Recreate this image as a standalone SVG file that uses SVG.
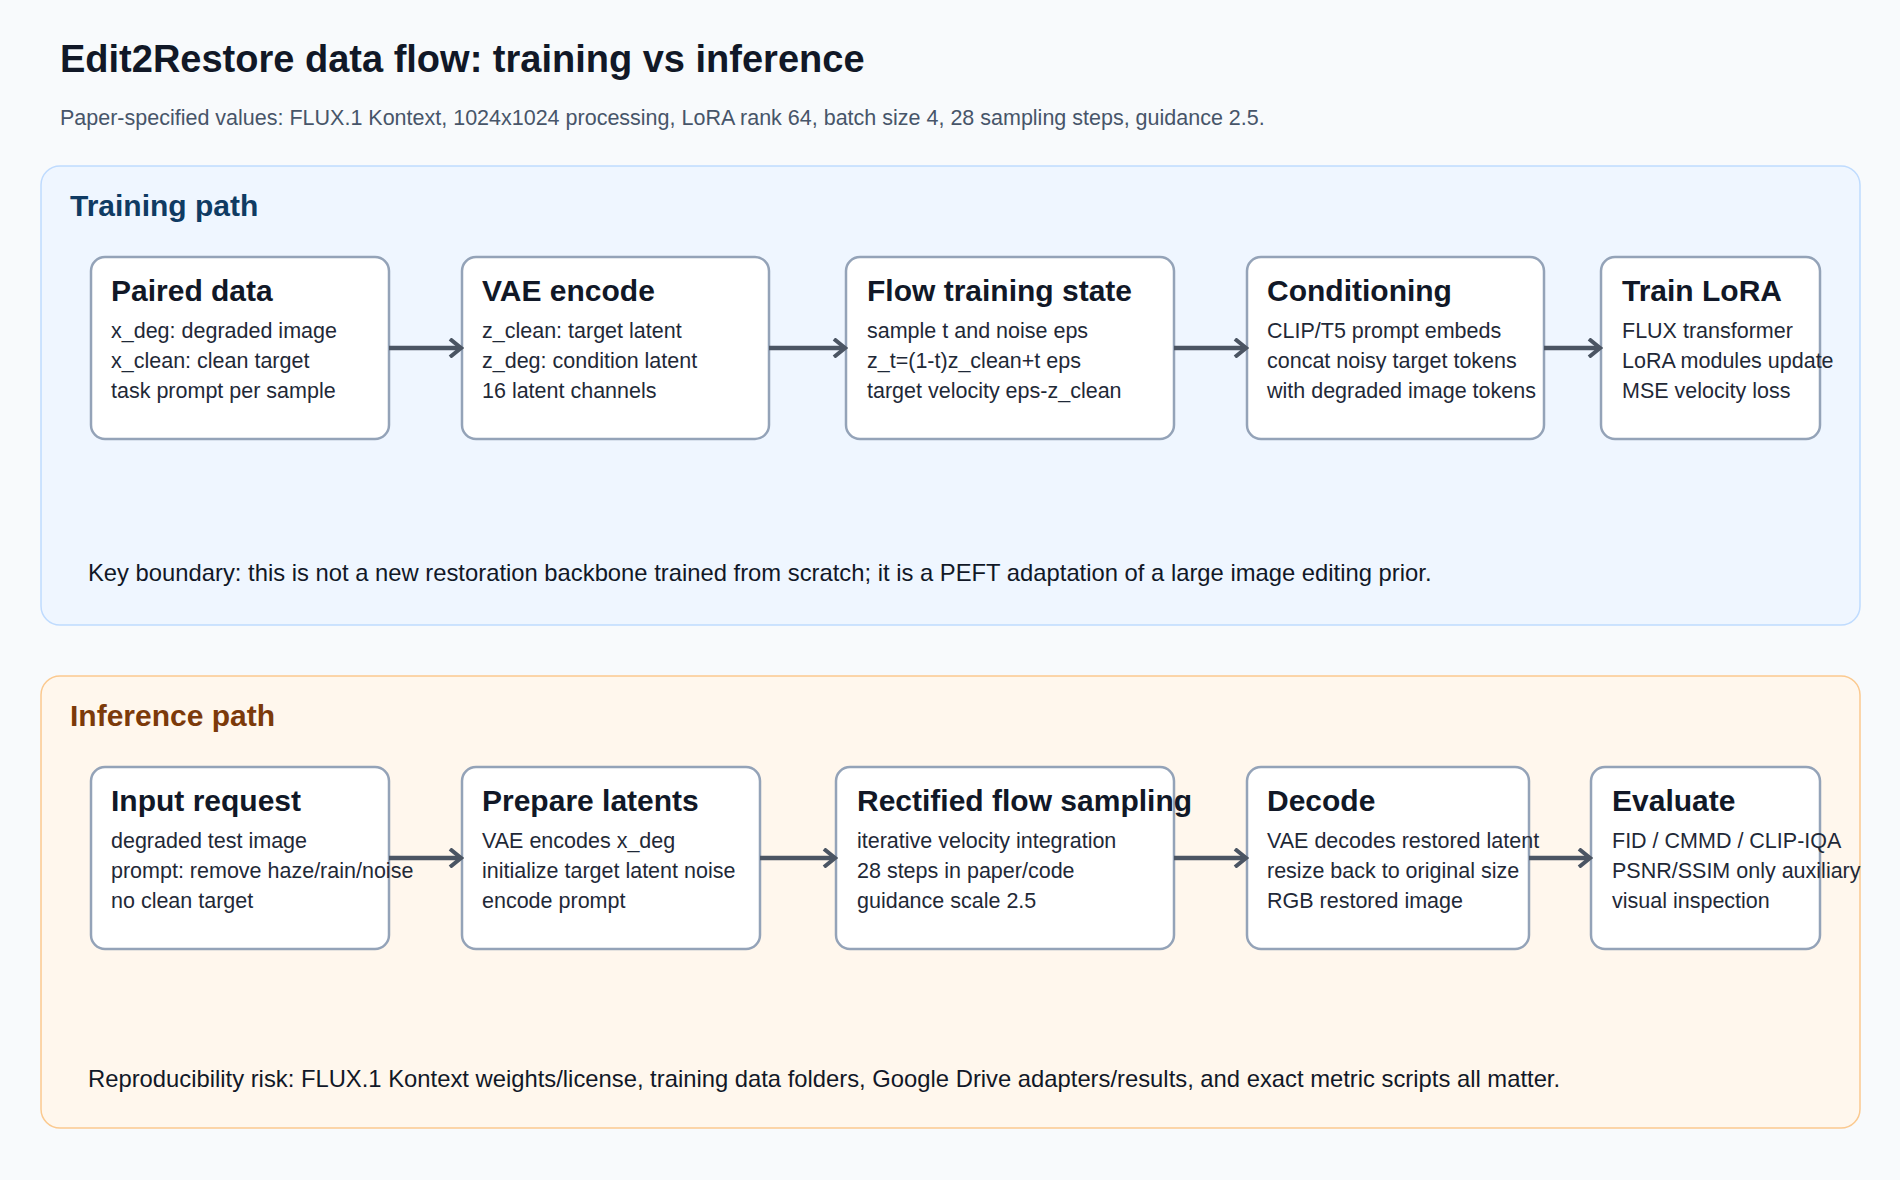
<svg xmlns="http://www.w3.org/2000/svg" width="1900" height="1180" viewBox="0 0 1900 1180">
<defs>
<marker id="ah" markerWidth="16" markerHeight="20" refX="13" refY="10" orient="auto" markerUnits="userSpaceOnUse" viewBox="0 0 16 20">
<path d="M2,1 L13,10 L2,19" fill="none" stroke="#4b5563" stroke-width="4"/>
</marker>
<style>
text{font-family:"Liberation Sans",Arial,sans-serif}
.ttl{font-size:38px;font-weight:bold;fill:#111827}
.sub{font-size:21.5px;fill:#475569}
.pt{font-size:30px;font-weight:bold}
.box{fill:#ffffff;stroke:#94a3b8;stroke-width:2.5}
.nt{font-size:30px;font-weight:bold;fill:#111827}
.nl{font-size:21.5px;fill:#1f2937}
.note{font-size:23.8px;fill:#111827}
.arr{stroke:#4b5563;stroke-width:4.5;fill:none;marker-end:url(#ah)}
</style>
</defs>
<rect width="1900" height="1180" fill="#f8fafc"/>
<text class="ttl" x="60" y="72">Edit2Restore data flow: training vs inference</text>
<text class="sub" x="60" y="125">Paper-specified values: FLUX.1 Kontext, 1024x1024 processing, LoRA rank 64, batch size 4, 28 sampling steps, guidance 2.5.</text>

<g id="training-panel">
<rect x="41" y="166" width="1819" height="459" rx="19" fill="#eff6ff" stroke="#bfdbfe" stroke-width="1.5"/>
<text class="pt" x="70" y="216" fill="#0f3b63">Training path</text>
<text class="note" x="88" y="581">Key boundary: this is not a new restoration backbone trained from scratch; it is a PEFT adaptation of a large image editing prior.</text>
</g>
<g id="inference-panel">
<rect x="41" y="676" width="1819" height="452" rx="19" fill="#fff7ed" stroke="#fbc98f" stroke-width="1.5"/>
<text class="pt" x="70" y="726" fill="#7c3a0a">Inference path</text>
<text class="note" x="88" y="1087">Reproducibility risk: FLUX.1 Kontext weights/license, training data folders, Google Drive adapters/results, and exact metric scripts all matter.</text>
</g>

<g id="paired-data"><rect class="box" x="91" y="257" width="298" height="182" rx="14"/>
<text class="nt" x="111" y="301">Paired data</text>
<text class="nl" x="111" y="338">x_deg: degraded image</text><text class="nl" x="111" y="368">x_clean: clean target</text><text class="nl" x="111" y="398">task prompt per sample</text></g>
<g id="vae-encode"><rect class="box" x="462" y="257" width="307" height="182" rx="14"/>
<text class="nt" x="482" y="301">VAE encode</text>
<text class="nl" x="482" y="338">z_clean: target latent</text><text class="nl" x="482" y="368">z_deg: condition latent</text><text class="nl" x="482" y="398">16 latent channels</text></g>
<g id="flow-training-state"><rect class="box" x="846" y="257" width="328" height="182" rx="14"/>
<text class="nt" x="867" y="301">Flow training state</text>
<text class="nl" x="867" y="338">sample t and noise eps</text><text class="nl" x="867" y="368">z_t=(1-t)z_clean+t eps</text><text class="nl" x="867" y="398">target velocity eps-z_clean</text></g>
<g id="conditioning"><rect class="box" x="1247" y="257" width="297" height="182" rx="14"/>
<text class="nt" x="1267" y="301">Conditioning</text>
<text class="nl" x="1267" y="338">CLIP/T5 prompt embeds</text><text class="nl" x="1267" y="368">concat noisy target tokens</text><text class="nl" x="1267" y="398">with degraded image tokens</text></g>
<g id="train-lora"><rect class="box" x="1601" y="257" width="219" height="182" rx="14"/>
<text class="nt" x="1622" y="301">Train LoRA</text>
<text class="nl" x="1622" y="338">FLUX transformer</text><text class="nl" x="1622" y="368">LoRA modules update</text><text class="nl" x="1622" y="398">MSE velocity loss</text></g>

<g id="input-request"><rect class="box" x="91" y="767" width="298" height="182" rx="14"/>
<text class="nt" x="111" y="811">Input request</text>
<text class="nl" x="111" y="848">degraded test image</text><text class="nl" x="111" y="878">prompt: remove haze/rain/noise</text><text class="nl" x="111" y="908">no clean target</text></g>
<g id="prepare-latents"><rect class="box" x="462" y="767" width="298" height="182" rx="14"/>
<text class="nt" x="482" y="811">Prepare latents</text>
<text class="nl" x="482" y="848">VAE encodes x_deg</text><text class="nl" x="482" y="878">initialize target latent noise</text><text class="nl" x="482" y="908">encode prompt</text></g>
<g id="rectified-flow-sampling"><rect class="box" x="836" y="767" width="338" height="182" rx="14"/>
<text class="nt" x="857" y="811">Rectified flow sampling</text>
<text class="nl" x="857" y="848">iterative velocity integration</text><text class="nl" x="857" y="878">28 steps in paper/code</text><text class="nl" x="857" y="908">guidance scale 2.5</text></g>
<g id="decode"><rect class="box" x="1247" y="767" width="282" height="182" rx="14"/>
<text class="nt" x="1267" y="811">Decode</text>
<text class="nl" x="1267" y="848">VAE decodes restored latent</text><text class="nl" x="1267" y="878">resize back to original size</text><text class="nl" x="1267" y="908">RGB restored image</text></g>
<g id="evaluate"><rect class="box" x="1591" y="767" width="229" height="182" rx="14"/>
<text class="nt" x="1612" y="811">Evaluate</text>
<text class="nl" x="1612" y="848">FID / CMMD / CLIP-IQA</text><text class="nl" x="1612" y="878">PSNR/SSIM only auxiliary</text><text class="nl" x="1612" y="908">visual inspection</text></g>

<g id="connectors">
<line class="arr" x1="389" y1="348" x2="461" y2="348"/>
<line class="arr" x1="769" y1="348" x2="845" y2="348"/>
<line class="arr" x1="1174" y1="348" x2="1246" y2="348"/>
<line class="arr" x1="1544" y1="348" x2="1600" y2="348"/>
<line class="arr" x1="389" y1="858" x2="461" y2="858"/>
<line class="arr" x1="760" y1="858" x2="835" y2="858"/>
<line class="arr" x1="1174" y1="858" x2="1246" y2="858"/>
<line class="arr" x1="1529" y1="858" x2="1590" y2="858"/>
</g>
</svg>
